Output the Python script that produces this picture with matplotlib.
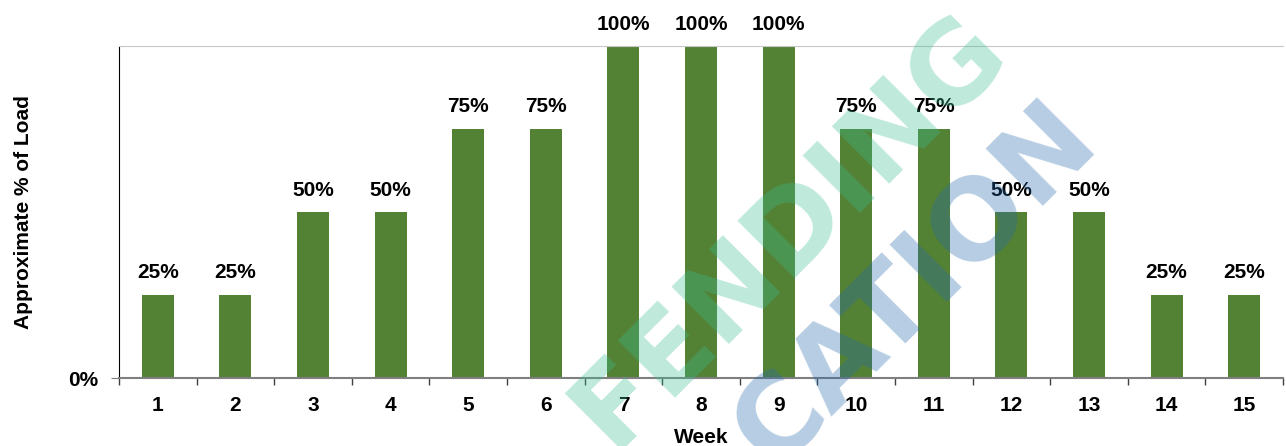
import numpy as np
import matplotlib
matplotlib.use('Agg')
import matplotlib.pyplot as plt

# data
weeks = [1, 2, 3, 4, 5, 6, 7, 8, 9, 10, 11, 12, 13, 14, 15]
load = [0.25, 0.25, 0.50, 0.50, 0.75, 0.75, 1.00, 1.00, 1.00, 0.75, 0.75, 0.50, 0.50, 0.25, 0.25]
labels = ['25%', '25%', '50%', '50%', '75%', '75%', '100%', '100%', '100%',
          '75%', '75%', '50%', '50%', '25%', '25%']

plt.rcParams['font.family'] = ['Liberation Sans', 'DejaVu Sans']

fig = plt.figure(figsize=(12.86, 4.46), dpi=100)
ax = fig.add_axes([119/1286, 1-378/446, (1283-119)/1286, 332/446])

ax.bar(weeks, load, width=0.41, color='#548235', zorder=2)
for x, v, t in zip(weeks, load, labels):
    ax.annotate(t, (x, v), xytext=(0, 9), textcoords='offset points',
                ha='center', va='bottom', fontsize=15, fontweight='bold',
                annotation_clip=False)

ax.set_xlim(0.5, 15.5)
ax.set_ylim(0, 1.0)
ax.set_xticks(weeks)
ax.set_xticklabels([str(w) for w in weeks], fontsize=15, fontweight='bold')
ax.set_xticks(np.arange(0.5, 15.6, 1.0), minor=True)
ax.tick_params(axis='x', which='major', length=0, pad=13)
ax.tick_params(axis='x', which='minor', length=5, color='#404040', width=1)
ax.set_yticks([0])
ax.set_yticklabels(['0%'], fontsize=15, fontweight='bold')
ax.tick_params(axis='y', length=6, color='#808080', pad=9)

ax.spines['right'].set_visible(False)
ax.spines['top'].set_color('#c8c8c8')
ax.spines['left'].set_color('black')
ax.spines['bottom'].set_color('#7f7f7f')
ax.spines['bottom'].set_linewidth(1.5)

ax.set_xlabel('Week', fontsize=15, fontweight='bold', labelpad=9)
ax.set_ylabel('Approximate % of Load', fontsize=15, fontweight='bold')
ax.yaxis.set_label_coords(-0.074, 0.5)

# watermark
fig.text(790/1286, 1-230/446, 'FENDING', rotation=45, ha='center', va='center',
         fontsize=80, fontweight='bold', color=(58/255, 189/255, 146/255),
         alpha=0.33, family='DejaVu Sans', zorder=5)
fig.text(915/1286, 1-285/446, 'CATION', rotation=45, ha='center', va='center',
         fontsize=80, fontweight='bold', color=(35/255, 104/255, 172/255),
         alpha=0.33, family='DejaVu Sans', zorder=5)

fig.savefig('out.png', dpi=100)
